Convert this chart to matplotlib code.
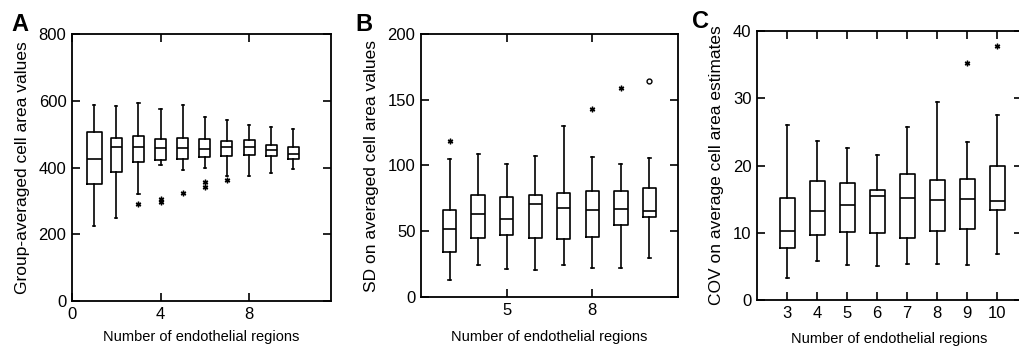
import matplotlib
matplotlib.use("Agg")
import matplotlib.pyplot as plt

plt.rcParams['font.family'] = ['Liberation Sans', 'DejaVu Sans']

# === DATA ===
# Panel A: group-averaged cell area, 1..10 regions
a_pos = [1, 2, 3, 4, 5, 6, 7, 8, 9, 10]
a_low = [224, 249, 320, 406, 392, 399, 375, 375, 384, 395]
a_q1 = [351, 387, 416, 423, 425, 431, 434, 437, 434, 425]
a_med = [425, 461, 462, 459, 459, 455, 462, 462, 451, 441]
a_q3 = [505, 489, 495, 486, 489, 486, 478, 482, 468, 462]
a_high = [586, 583, 594, 576, 586, 552, 541, 527, 521, 514]
a_out = [[], [], [291], [305, 297], [323], [357, 342], [363], [], [], []]

# Panel B: SD on averaged cell area, 3..10 regions
b_pos = [3, 4, 5, 6, 7, 8, 9, 10]
b_low = [13.2, 24.2, 21.6, 20.9, 24.2, 22.4, 22.4, 29.7]
b_q1 = [34.3, 45.0, 46.8, 45.0, 44.2, 45.7, 54.4, 60.5]
b_med = [51.4, 62.8, 59.2, 70.4, 67.6, 66.1, 66.8, 65.5]
b_q3 = [66.1, 77.5, 76.2, 77.3, 79.0, 80.6, 80.6, 83.1]
b_high = [104.7, 108.8, 100.9, 107.0, 130.1, 106.7, 100.9, 106.0]
b_out = [[118.9], [], [], [], [], [143.1], [159.3], []]
b_circ = [[], [], [], [], [], [], [], [164.6]]

# Panel C: COV on average cell area estimates, 3..10 regions
c_pos = [3, 4, 5, 6, 7, 8, 9, 10]
c_low = [3.3, 5.8, 5.2, 5.1, 5.4, 5.4, 5.2, 6.9]
c_q1 = [7.7, 9.6, 10.1, 9.9, 9.2, 10.2, 10.5, 13.4]
c_med = [10.2, 13.3, 14.1, 15.5, 15.1, 14.8, 15.0, 14.7]
c_q3 = [15.1, 17.7, 17.4, 16.4, 18.8, 17.9, 18.0, 20.0]
c_high = [26.0, 23.6, 22.6, 21.5, 25.7, 29.4, 23.5, 27.5]
c_out = [[], [], [], [], [], [], [35.2], [37.7]]

xlabel = "Number of endothelial regions"


def make_stats(low, q1, med, q3, high, out):
    stats = []
    for i in range(len(med)):
        stats.append({'whislo': low[i], 'q1': q1[i], 'med': med[i],
                      'q3': q3[i], 'whishi': high[i], 'fliers': out[i]})
    return stats


def draw_box(ax, pos, stats, width, extra=None):
    bp = ax.bxp(stats, positions=pos, widths=width, capwidths=0.1,
                patch_artist=False, manage_ticks=False,
                boxprops=dict(color='black', linewidth=1.2),
                medianprops=dict(color='black', linewidth=1.2),
                whiskerprops=dict(color='black', linewidth=1.2),
                capprops=dict(color='black', linewidth=1.2),
                flierprops=dict(marker=(6, 2, 0), markersize=4,
                                markeredgecolor='black', markeredgewidth=1.0,
                                linestyle='none'))
    # open circle outliers (only panel B)
    if extra is not None:
        for p, vals in zip(pos, extra):
            for v in vals:
                ax.plot(p, v, marker='o', markersize=3.5, markerfacecolor='white',
                        markeredgecolor='black', markeredgewidth=1.0, linestyle='none')
    return bp


def style_axes(ax):
    for s in ax.spines.values():
        s.set_linewidth(1.3)
    ax.tick_params(axis='both', direction='in', length=6, width=1.2,
                   top=True, right=True, labelsize=12, pad=4)


fig = plt.figure(figsize=(10.19, 3.49), dpi=100)
W, H = 1019.0, 349.0

# --- Panel A ---
axA = fig.add_axes([72 / W, (H - 301) / H, 259 / W, 267 / H])
draw_box(axA, a_pos, make_stats(a_low, a_q1, a_med, a_q3, a_high, a_out),
         [0.68] + [0.5] * 9)
axA.set_xlim(0, 11.7)
axA.set_ylim(0, 800)
axA.set_xticks([0, 4, 8])
axA.set_yticks([0, 200, 400, 600, 800])
style_axes(axA)
axA.set_xlabel(xlabel, fontsize=10.5, labelpad=6)
axA.set_ylabel("Group-averaged cell area values", fontsize=12.5, labelpad=6)
fig.text(11 / W, 1 - 31 / H, "A", fontsize=17, fontweight='bold')

# --- Panel B ---
axB = fig.add_axes([421 / W, (H - 297) / H, 257 / W, 263 / H])
draw_box(axB, b_pos, make_stats(b_low, b_q1, b_med, b_q3, b_high, b_out),
         0.47, extra=b_circ)
axB.set_xlim(2, 11)
axB.set_ylim(0, 200)
axB.set_xticks([5, 8])
axB.set_yticks([0, 50, 100, 150, 200])
style_axes(axB)
axB.set_xlabel(xlabel, fontsize=10.5, labelpad=9)
axB.set_ylabel("SD on averaged cell area values", fontsize=12.5, labelpad=6)
fig.text(355 / W, 1 - 31 / H, "B", fontsize=17, fontweight='bold')

# --- Panel C ---
axC = fig.add_axes([757 / W, (H - 300) / H, 265 / W, 269 / H])
draw_box(axC, c_pos, make_stats(c_low, c_q1, c_med, c_q3, c_high, c_out), 0.5)
axC.set_xlim(2, 2 + 265 / 30.0)
axC.set_ylim(0, 40)
axC.set_xticks(c_pos)
axC.set_yticks([0, 10, 20, 30, 40])
style_axes(axC)
axC.set_xlabel(xlabel, fontsize=10.5, labelpad=8)
axC.set_ylabel("COV on average cell area estimates", fontsize=12.5, labelpad=6)
fig.text(692 / W, 1 - 28 / H, "C", fontsize=17, fontweight='bold')

fig.savefig("out.png", dpi=100)
